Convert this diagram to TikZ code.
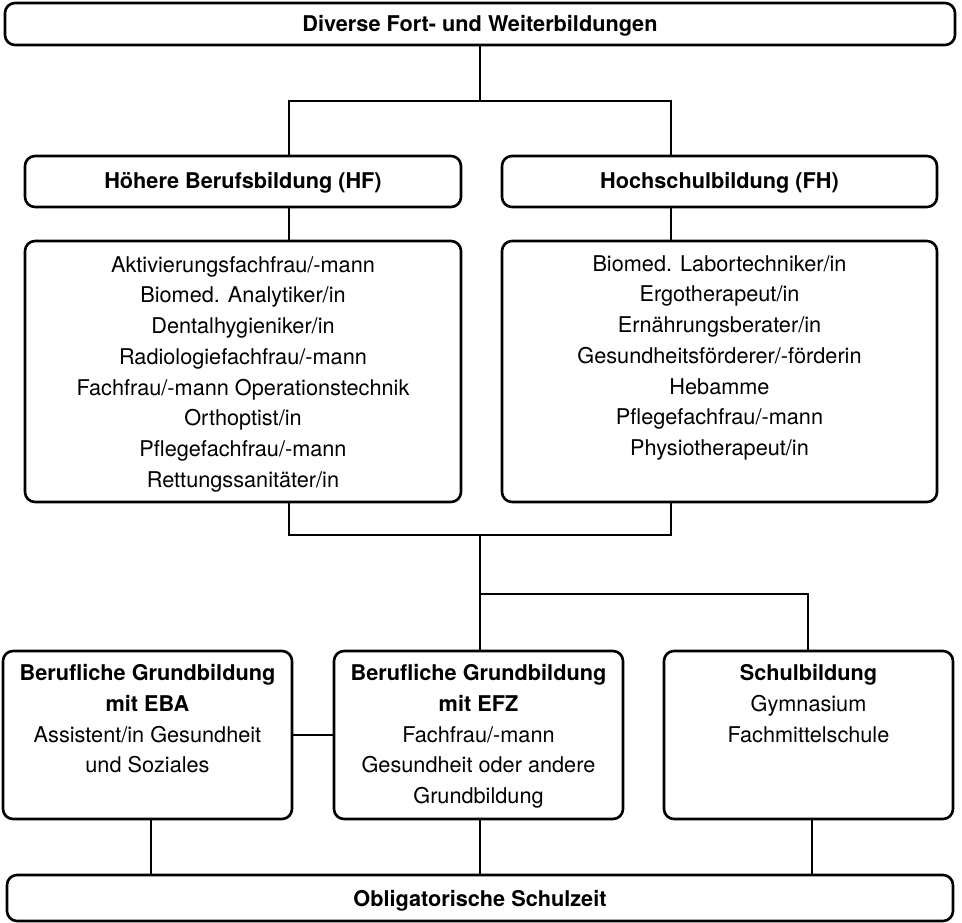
\documentclass[tikz,border=0pt]{standalone}
\usepackage{fontspec}
\setmainfont{TeX Gyre Heros}
\begin{document}
\begin{tikzpicture}[x=1pt,y=-1pt,
  box/.style={draw, line width=2.6pt, rounded corners=10pt, inner sep=0pt},
  conn/.style={line width=2.6pt},
  txt/.style={inner sep=0pt, align=center, font=\fontsize{21.7}{30.7}\selectfont},
  hdr/.style={inner sep=0pt, align=center, font=\bfseries\fontsize{21.7}{30.7}\selectfont}]
\useasboundingbox (0,0) rectangle (962,923);

% boxes
\node[box, minimum width=950pt, minimum height=42pt] (top) at (480,24) {};
\node[box, minimum width=436pt, minimum height=51pt] (hf) at (243,181.5) {};
\node[box, minimum width=435pt, minimum height=51pt] (fh) at (719.5,181.5) {};
\node[box, minimum width=436pt, minimum height=261pt] (hfl) at (243,371.5) {};
\node[box, minimum width=435pt, minimum height=261pt] (fhl) at (719.5,371.5) {};
\node[box, minimum width=289pt, minimum height=168pt] (eba) at (147.5,735) {};
\node[box, minimum width=289pt, minimum height=168pt] (efz) at (478.5,735) {};
\node[box, minimum width=289pt, minimum height=168pt] (schul) at (808.5,735) {};
\node[box, minimum width=946pt, minimum height=46pt] (oblig) at (480,898) {};

% texts
\node[hdr, anchor=base] (ttop) at (480,31.7) {Diverse Fort- und Weiterbildungen};
\node[hdr, anchor=base] (thf) at (243,188.8) {Höhere Berufsbildung (HF)};
\node[hdr, anchor=base] (tfh) at (719.5,188.8) {Hochschulbildung (FH)};
\node[txt, anchor=north] (thfl) at (243,252) {\rule{0pt}{20pt}Aktivierungsfachfrau/-mann\\Biomed. Analytiker/in\\Dentalhygieniker/in\\Radiologiefachfrau/-mann\\Fachfrau/-mann Operationstechnik\\Orthoptist/in\\Pflegefachfrau/-mann\\Rettungssanitäter/in};
\node[txt, anchor=north] (tfhl) at (719.5,251) {\rule{0pt}{20pt}Biomed. Labortechniker/in\\Ergotherapeut/in\\Ernährungsberater/in\\Gesundheitsförderer/-förderin\\Hebamme\\Pflegefachfrau/-mann\\Physiotherapeut/in};
\node[txt, anchor=north] (teba) at (147.5,660.5) {\rule{0pt}{20pt}\textbf{Berufliche Grundbildung}\\\textbf{mit EBA}\\Assistent/in Gesundheit\\und Soziales};
\node[txt, anchor=north] (tefz) at (478.5,660.5) {\rule{0pt}{20pt}\textbf{Berufliche Grundbildung}\\\textbf{mit EFZ}\\Fachfrau/-mann\\Gesundheit oder andere\\Grundbildung};
\node[txt, anchor=north] (tschul) at (808.5,660.5) {\rule{0pt}{20pt}\textbf{Schulbildung}\\Gymnasium\\Fachmittelschule};
\node[hdr, anchor=base] (toblig) at (480,906.5) {Obligatorische Schulzeit};

% junctions
\coordinate (jt) at (480,101);
\coordinate (jl) at (289,101);
\coordinate (jr) at (671,101);
\coordinate (jm) at (480,535);
\coordinate (js) at (480,594);
\coordinate (jss) at (808,594);
\coordinate (xeba) at (151,0);
\coordinate (xschul) at (812,0);

% connectors
\draw[conn] (top.south) -- (jt);
\draw[conn] (hf.north -| jl) -- (jl) -- (jr) -- (fh.north -| jr);
\draw[conn] (hf.south -| jl) -- (hfl.north -| jl);
\draw[conn] (fh.south -| jr) -- (fhl.north -| jr);
\draw[conn] (hfl.south -| jl) |- (jm) -| (fhl.south -| jr);
\draw[conn] (jm) -- (efz.north -| jm);
\draw[conn] (js) -- (jss) -- (schul.north -| jss);
\draw[conn] (eba.east) -- (efz.west);
\draw[conn] (eba.south -| xeba) -- (oblig.north -| xeba);
\draw[conn] (efz.south -| jm) -- (oblig.north -| jm);
\draw[conn] (schul.south -| xschul) -- (oblig.north -| xschul);
\end{tikzpicture}
\end{document}
